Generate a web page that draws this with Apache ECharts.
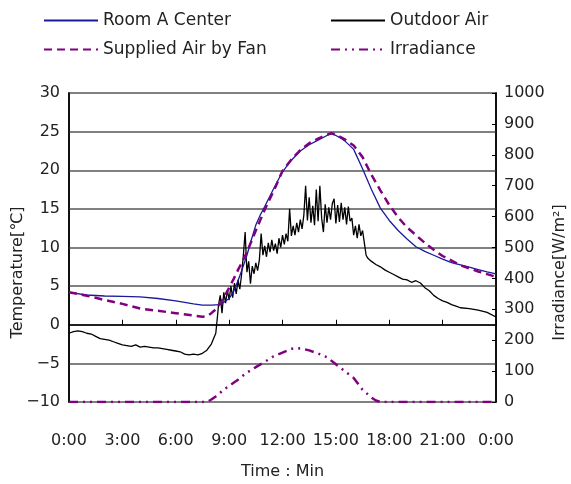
<!DOCTYPE html>
<html lang="en">
<head>
    <meta charset="UTF-8">
    <title>Room temperature and irradiance</title>
    <style>
        html, body { margin: 0; padding: 0; background: #fff; }
        #app { width: 571px; height: 484px; }
    </style>
</head>
<body>
    <div id="app"></div>
    <script src="https://cdn.jsdelivr.net/npm/echarts@6.0.0/dist/echarts.min.js"></script>
    <script>
        // x in hours, 0..24
        var xTicks = [0, 3, 6, 9, 12, 15, 18, 21, 24]

        var roomHours = [0, 1, 2, 3, 4, 5, 6, 7, 7.5, 8, 8.5, 9, 9.25, 9.5, 9.75, 10, 10.25, 10.5, 10.75, 11, 11.5, 12, 12.5, 13, 13.5, 14, 14.5, 14.75, 15, 15.25, 15.5, 16, 16.5, 17, 17.5, 18, 18.5, 19, 19.5, 20, 20.5, 21, 21.5, 22, 22.5, 23, 23.5, 24]
        var roomTemp = [4.2, 3.85, 3.72, 3.68, 3.6, 3.4, 3.1, 2.7, 2.55, 2.55, 2.6, 3.4, 4.3, 5.7, 7.3, 9.0, 11.0, 12.9, 14.2, 15.3, 17.6, 19.8, 21.3, 22.5, 23.3, 23.9, 24.5, 24.7, 24.5, 24.2, 23.8, 22.7, 20.2, 17.5, 15.1, 13.5, 12.2, 11.1, 10.1, 9.5, 9.0, 8.5, 8.05, 7.75, 7.45, 7.15, 6.85, 6.6]

        var fanHours = [0, 0.5, 1, 1.5, 2, 3, 4, 5, 6, 7, 7.5, 7.75, 8, 8.25, 8.5, 8.75, 9, 9.25, 9.5, 9.75, 10, 10.5, 11, 11.5, 12, 12.5, 13, 13.5, 14, 14.5, 14.75, 15, 15.5, 16, 16.5, 17, 17.5, 18, 18.5, 19, 19.5, 20, 20.5, 21, 21.5, 22, 22.5, 23, 23.5, 24]
        var fanTemp = [4.2, 4.0, 3.75, 3.5, 3.2, 2.7, 2.1, 1.8, 1.5, 1.2, 1.05, 1.1, 1.5, 2.0, 2.8, 3.7, 4.8, 5.9, 7.1, 8.2, 9.4, 12.2, 14.9, 17.3, 19.9, 21.4, 22.6, 23.5, 24.1, 24.6, 24.8, 24.6, 24.0, 23.2, 21.7, 19.4, 17.4, 15.5, 13.9, 12.6, 11.6, 10.6, 9.7, 8.9, 8.3, 7.7, 7.3, 6.9, 6.55, 6.2]

        var outHours = [0, 0.25, 0.5, 0.75, 1, 1.25, 1.5, 1.75, 2, 2.25, 2.5, 2.75, 3, 3.25, 3.5, 3.75, 4, 4.25, 4.5, 4.75, 5, 5.25, 5.5, 5.75, 6, 6.25, 6.5, 6.75, 7, 7.25, 7.5, 7.75, 8, 8.25, 8.35,
            8.4, 8.5, 8.6, 8.7, 8.8, 8.9, 9.0, 9.1, 9.2, 9.3, 9.4, 9.5, 9.6, 9.7, 9.8, 9.9,
            10.0, 10.1, 10.2, 10.3, 10.4, 10.5, 10.6, 10.7, 10.8, 10.9, 11.0, 11.1, 11.2, 11.3, 11.4, 11.5, 11.6, 11.7, 11.8, 11.9,
            12.0, 12.1, 12.2, 12.3, 12.4, 12.5, 12.6, 12.7, 12.8, 12.9, 13.0, 13.1, 13.2, 13.3, 13.4, 13.5, 13.6, 13.7, 13.8, 13.9,
            14.0, 14.1, 14.2, 14.3, 14.4, 14.5, 14.6, 14.7, 14.8, 14.9, 15.0, 15.1, 15.2, 15.3, 15.4, 15.5, 15.6, 15.7, 15.8, 15.9,
            16.0, 16.1, 16.2, 16.3, 16.4, 16.5, 16.6, 16.7, 16.8,
            17, 17.25, 17.5, 17.75, 18, 18.25, 18.5, 18.75, 19, 19.25, 19.5, 19.75, 20, 20.25, 20.5, 20.75, 21, 21.25, 21.5, 21.75, 22, 22.5, 23, 23.5, 24]
        var outTemp = [-1.1, -0.9, -0.8, -0.9, -1.1, -1.2, -1.5, -1.8, -1.9, -2.0, -2.2, -2.4, -2.6, -2.7, -2.8, -2.6, -2.9, -2.8, -2.9, -3.0, -3.0, -3.1, -3.2, -3.3, -3.4, -3.5, -3.8, -3.9, -3.8, -3.9, -3.7, -3.3, -2.5, -1.1, 1.2,
            2.5, 3.8, 1.5, 4.2, 2.8, 4.5, 3.2, 5.0, 3.5, 5.4, 4.0, 5.8, 4.6, 6.5, 9.0, 12.0,
            6.8, 8.2, 5.3, 7.6, 6.6, 8.0, 7.0, 8.4, 11.8, 9.0, 10.2, 8.8, 10.6, 9.4, 11.0, 9.6, 10.5, 9.2, 11.2, 10.0,
            11.6, 10.4, 11.8, 10.8, 15.0, 11.5, 12.8, 11.6, 13.2, 12.0, 13.6, 12.4, 14.2, 18.0, 13.5, 16.5, 13.2, 15.4, 12.9, 17.5,
            13.4, 18.0, 13.8, 12.0, 15.6, 13.2, 15.2, 13.6, 15.7, 16.3, 13.1, 15.5, 13.3, 15.8, 13.6, 15.2, 13.0, 15.3, 13.4, 13.8,
            11.6, 12.8, 11.2, 13.0, 11.5, 12.2, 10.6, 9.0, 8.6,
            8.2, 7.8, 7.5, 7.1, 6.8, 6.5, 6.2, 5.9, 5.8, 5.5, 5.7, 5.4, 4.8, 4.4, 3.8, 3.4, 3.1, 2.9, 2.6, 2.4, 2.2, 2.1, 1.9, 1.6, 1.0]

        var sunHours = [0, 7.75, 8, 8.25, 8.5, 8.75, 9, 9.25, 9.5, 9.75, 10, 10.5, 11, 11.5, 12, 12.5, 13, 13.5, 14, 14.5, 15, 15.5, 16, 16.5, 17, 17.25, 17.5, 24]
        var sunIrr = [0, 0, 8, 18, 30, 42, 52, 62, 72, 84, 95, 113, 130, 148, 160, 172, 174, 167, 157, 145, 122, 100, 78, 40, 14, 5, 0, 0]

        function pairs(xs, ys) {
            return xs.map(function (x, i) { return [x, ys[i]] })
        }

        var font = 'DejaVu Sans'
        var txt = { color: '#222', fontSize: 16, fontFamily: font }
        var legendTxt = { color: '#222', fontSize: 17, fontFamily: font }

        var mychart = echarts.init(document.getElementById('app'))
        var option = {
            animation: false,
            grid: {
                left: 69, right: 75, top: 93, bottom: 82, containLabel: false, outerBoundsMode: 'none',
                show: true, borderColor: '#000', borderWidth: 1.5
            },
            legend: [{
                orient: 'vertical', left: 38, top: 7, itemWidth: 54, itemHeight: 14, itemGap: 12,
                itemStyle: { opacity: 0 }, textStyle: legendTxt, data: ['Room A Center', 'Supplied Air by Fan']
            }, {
                orient: 'vertical', left: 325, top: 7, itemWidth: 54, itemHeight: 14, itemGap: 12,
                itemStyle: { opacity: 0 }, textStyle: legendTxt, data: ['Outdoor Air', 'Irradiance']
            }],
            xAxis: {
                type: 'value', min: 0, max: 24, interval: 3,
                name: 'Time : Min', nameLocation: 'middle', nameGap: 62, nameTextStyle: txt,
                axisLine: { lineStyle: { color: '#000', width: 1.5 } },
                axisTick: { inside: true, length: 5, lineStyle: { color: '#000' } },
                splitLine: { show: false },
                axisLabel: Object.assign({ margin: 31, formatter: function (v) { return (v % 24) + ':00' } }, txt)
            },
            yAxis: [{
                type: 'value', min: -10, max: 30, interval: 5,
                name: 'Temperature[℃]', nameLocation: 'middle', nameRotate: 90, nameGap: 43, nameMoveOverlap: false,
                nameTextStyle: Object.assign({ padding: [0, 50, 0, 0] }, txt),
                axisLine: { show: true, lineStyle: { color: '#000', width: 1.5 } },
                axisTick: { show: false },
                splitLine: { lineStyle: { color: '#808080', width: 2 } },
                axisLabel: Object.assign({ margin: 9, formatter: function (v) { return String(v).replace('-', '\u2212') } }, txt)
            }, {
                type: 'value', min: 0, max: 1000, interval: 100, position: 'right',
                name: 'Irradiance[W/m²]', nameLocation: 'middle', nameRotate: 90, nameGap: 56, nameMoveOverlap: false,
                nameTextStyle: Object.assign({ padding: [0, 50, 0, 0] }, txt),
                axisLine: { show: true, lineStyle: { color: '#000', width: 1.5 } },
                axisTick: { inside: true, length: 4, lineStyle: { color: '#000' } },
                splitLine: { show: false },
                axisLabel: Object.assign({ margin: 8, formatter: function (v) { return String(v) } }, txt)
            }],
            series: [{
                name: 'Room A Center', type: 'line', symbol: 'none', z: 4,
                lineStyle: { color: '#1a1a9a', width: 1.3 }, itemStyle: { color: '#1a1a9a' },
                data: pairs(roomHours, roomTemp)
            }, {
                name: 'Outdoor Air', type: 'line', symbol: 'none', z: 3,
                lineStyle: { color: '#000', width: 1.3 }, itemStyle: { color: '#000' },
                data: pairs(outHours, outTemp)
            }, {
                name: 'Supplied Air by Fan', type: 'line', symbol: 'none', z: 5,
                lineStyle: { color: '#800080', width: 2.5, type: [8, 5] }, itemStyle: { color: '#800080' },
                data: pairs(fanHours, fanTemp)
            }, {
                name: 'Irradiance', type: 'line', symbol: 'none', yAxisIndex: 1, z: 5,
                lineStyle: { color: '#800080', width: 2.5, type: [9, 5, 2, 5, 2, 5] }, itemStyle: { color: '#800080' },
                data: pairs(sunHours, sunIrr)
            }]
        }
        mychart.setOption(option)
    </script>
</body>
</html>
